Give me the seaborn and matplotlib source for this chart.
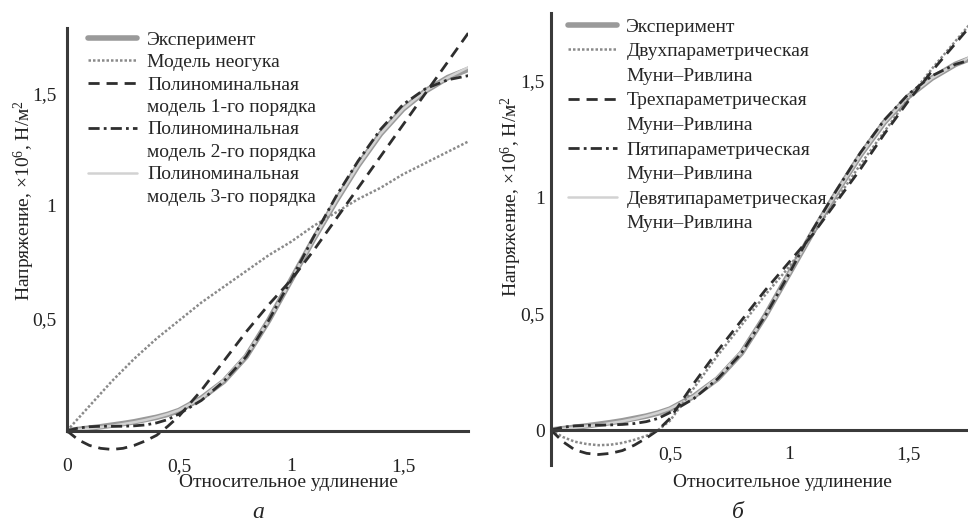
import numpy as np
import pandas as pd
import matplotlib
matplotlib.use("Agg")
import matplotlib.pyplot as plt
from matplotlib.lines import Line2D
import seaborn as sns

# Relative elongation (shared x for all curves)
strain = [0, 0.05, 0.1, 0.15, 0.2, 0.25, 0.3, 0.35, 0.4, 0.45, 0.5,
          0.6, 0.7, 0.8, 0.9, 1.0, 1.1, 1.2, 1.3, 1.4, 1.5, 1.6, 1.7, 1.8]

# Stress, x10^6 N/m^2
experiment = [0, 0.006, 0.012, 0.018, 0.025, 0.032, 0.04, 0.05, 0.06, 0.073, 0.09,
              0.145, 0.22, 0.33, 0.49, 0.67, 0.85, 1.02, 1.18, 1.32, 1.43, 1.51, 1.57, 1.61]

# panel a
neo_hooke = [0, 0.055, 0.11, 0.165, 0.22, 0.27, 0.32, 0.365, 0.41, 0.45, 0.49,
             0.57, 0.64, 0.71, 0.78, 0.84, 0.91, 0.97, 1.03, 1.08, 1.14, 1.19, 1.24, 1.29]
poly_1 = [0, -0.04, -0.065, -0.078, -0.083, -0.078, -0.065, -0.045, -0.02, 0.02, 0.065,
          0.18, 0.31, 0.44, 0.56, 0.67, 0.80, 0.94, 1.08, 1.22, 1.36, 1.50, 1.64, 1.78]
poly_2 = [0, 0.012, 0.018, 0.02, 0.02, 0.02, 0.022, 0.026, 0.035, 0.05, 0.075,
          0.135, 0.22, 0.33, 0.49, 0.67, 0.86, 1.04, 1.20, 1.34, 1.45, 1.52, 1.56, 1.58]
poly_3 = [0, 0.005, 0.01, 0.016, 0.022, 0.03, 0.038, 0.048, 0.06, 0.074, 0.092,
          0.145, 0.225, 0.335, 0.49, 0.67, 0.85, 1.02, 1.18, 1.32, 1.43, 1.51, 1.57, 1.62]

# panel b (Mooney-Rivlin)
mr_2 = [0, -0.03, -0.05, -0.06, -0.065, -0.063, -0.055, -0.042, -0.025, 0.0, 0.04,
        0.18, 0.32, 0.45, 0.58, 0.70, 0.84, 0.99, 1.14, 1.28, 1.42, 1.55, 1.67, 1.79]
mr_3 = [0, -0.05, -0.085, -0.1, -0.105, -0.1, -0.088, -0.065, -0.035, 0.0, 0.05,
        0.20, 0.34, 0.47, 0.60, 0.72, 0.84, 0.98, 1.12, 1.27, 1.41, 1.54, 1.66, 1.78]
mr_5 = [0, 0.012, 0.018, 0.02, 0.021, 0.022, 0.024, 0.028, 0.036, 0.05, 0.075,
        0.135, 0.22, 0.33, 0.49, 0.67, 0.86, 1.03, 1.19, 1.33, 1.44, 1.52, 1.57, 1.60]
mr_9 = [0, 0.005, 0.01, 0.016, 0.022, 0.03, 0.038, 0.048, 0.06, 0.074, 0.092,
        0.145, 0.225, 0.335, 0.49, 0.67, 0.85, 1.02, 1.18, 1.32, 1.43, 1.51, 1.57, 1.62]

ticks = [0, 0.25, 0.5, 0.75, 1.0, 1.25, 1.5, 1.75]
tick_labels = ["0", "", "0,5", "", "1", "", "1,5", ""]

legend_a = ["Эксперимент", "Модель неогука", "Полиноминальная", "модель 1-го порядка",
            "Полиноминальная", "модель 2-го порядка", "Полиноминальная", "модель 3-го порядка"]
legend_b = ["Эксперимент", "Двухпараметрическая", "Муни–Ривлина", "Трехпараметрическая",
            "Муни–Ривлина", "Пятипараметрическая", "Муни–Ривлина",
            "Девятипараметрическая", "Муни–Ривлина"]

sns.set_theme(style="white")
plt.rcParams['font.family'] = ['Liberation Serif', 'DejaVu Serif']
plt.rcParams['mathtext.fontset'] = 'custom'
plt.rcParams['mathtext.rm'] = 'Liberation Serif'
plt.rcParams['mathtext.it'] = 'Liberation Serif:italic'

FS = 14
AX_C = '#3a3a3a'

styles = {
    'exp': dict(color='#9a9a9a', linewidth=4.0, linestyle='-'),
    'dot': dict(color='#8a8a8a', linewidth=1.8, linestyle=(0, (1, 0.8))),
    'dash': dict(color='#2e2e2e', linewidth=2.0, linestyle=(0, (4, 2.5))),
    'dashdot': dict(color='#2e2e2e', linewidth=2.0, linestyle=(0, (4, 1.5, 1, 1.5))),
    'light': dict(color='#d2d2d2', linewidth=1.8, linestyle='-'),
}

fig = plt.figure(figsize=(9.68, 5.24), dpi=100)
ax_a = fig.add_axes([67 / 968, 0.1135, 401 / 968, 0.833])
ax_b = fig.add_axes([551 / 968, 0.1126, 416.5 / 968, 0.8626])

df = pd.DataFrame({'strain': strain, 'exp': experiment, 'neo': neo_hooke,
                   'p1': poly_1, 'p2': poly_2, 'p3': poly_3,
                   'mr2': mr_2, 'mr3': mr_3, 'mr5': mr_5, 'mr9': mr_9})


def draw(ax, cols):
    for col, st in cols:
        sns.lineplot(data=df, x='strain', y=col, ax=ax, **st)


draw(ax_a, [('exp', styles['exp']), ('p3', styles['light']), ('neo', styles['dot']),
            ('p1', styles['dash']), ('p2', styles['dashdot'])])
draw(ax_b, [('exp', styles['exp']), ('mr9', styles['light']), ('mr2', styles['dot']),
            ('mr3', styles['dash']), ('mr5', styles['dashdot'])])

ax_a.set_xlim(0, 1.79)
ax_a.set_ylim(-0.15, 1.79)
ax_b.set_xlim(0, 1.75)
ax_b.set_ylim(-0.15, 1.79)

for ax in (ax_a, ax_b):
    for s in ('top', 'right'):
        ax.spines[s].set_visible(False)
    for s in ('left', 'bottom'):
        ax.spines[s].set_color(AX_C)
        ax.spines[s].set_linewidth(2.2)
    ax.spines['bottom'].set_position(('data', 0))
    ax.tick_params(direction='inout', length=5, width=1.5, color=AX_C,
                   labelsize=FS, labelcolor='#222222')
    ax.set_ylabel("Напряжение, ×10$^6$, Н/м$^2$", fontsize=FS, color='#222222')
    ax.set_xlabel("Относительное удлинение", fontsize=FS, color='#222222')
    ax.grid(False)

# panel a ticks
ax_a.spines['left'].set_bounds(0, 1.79)
ax_a.set_xticks(ticks)
ax_a.set_xticklabels(tick_labels)
ax_a.set_yticks(ticks[1:])
ax_a.set_yticklabels(tick_labels[1:])
ax_a.tick_params(axis='x', pad=17)
ax_a.tick_params(axis='y', pad=5)

# panel b ticks
ax_b.set_xticks(ticks[1:])
ax_b.set_xticklabels(tick_labels[1:])
ax_b.set_yticks(ticks)
ax_b.set_yticklabels(tick_labels)
ax_b.tick_params(axis='x', pad=9)
ax_b.tick_params(axis='y', pad=2)

ax_a.yaxis.set_label_coords(-0.075, 0.606)
ax_b.yaxis.set_label_coords(-0.066, 0.595)
ax_a.xaxis.set_label_coords(0.551, -0.022)
ax_b.xaxis.set_label_coords(0.555, -0.02)


def handles_for(keys):
    out = []
    for k in keys:
        if k is None:
            out.append(Line2D([], [], color='none'))
        else:
            out.append(Line2D([], [], **styles[k]))
    return out


h_a = handles_for(['exp', 'dot', 'dash', None, 'dashdot', None, 'light', None])
ax_a.legend(h_a, legend_a, loc='upper left', bbox_to_anchor=(88 / 968, 1 - 31 / 524),
            bbox_transform=fig.transFigure, frameon=False, fontsize=FS,
            handlelength=2.5, handletextpad=0.55, labelspacing=0.25,
            borderpad=0, borderaxespad=0)

h_b = handles_for(['exp', 'dot', None, 'dash', None, 'dashdot', None, 'light', None])
ax_b.legend(h_b, legend_b, loc='upper left', bbox_to_anchor=(568 / 968, 1 - 18 / 524),
            bbox_transform=fig.transFigure, frameon=False, fontsize=FS,
            handlelength=2.5, handletextpad=0.5, labelspacing=0.36,
            borderpad=0, borderaxespad=0)

fig.text(258 / 968, 1 - 513 / 524, "а", fontsize=17, style='italic', ha='center', va='center')
fig.text(738 / 968, 1 - 513 / 524, "б", fontsize=17, style='italic', ha='center', va='center')

fig.savefig("out.png", dpi=100)
